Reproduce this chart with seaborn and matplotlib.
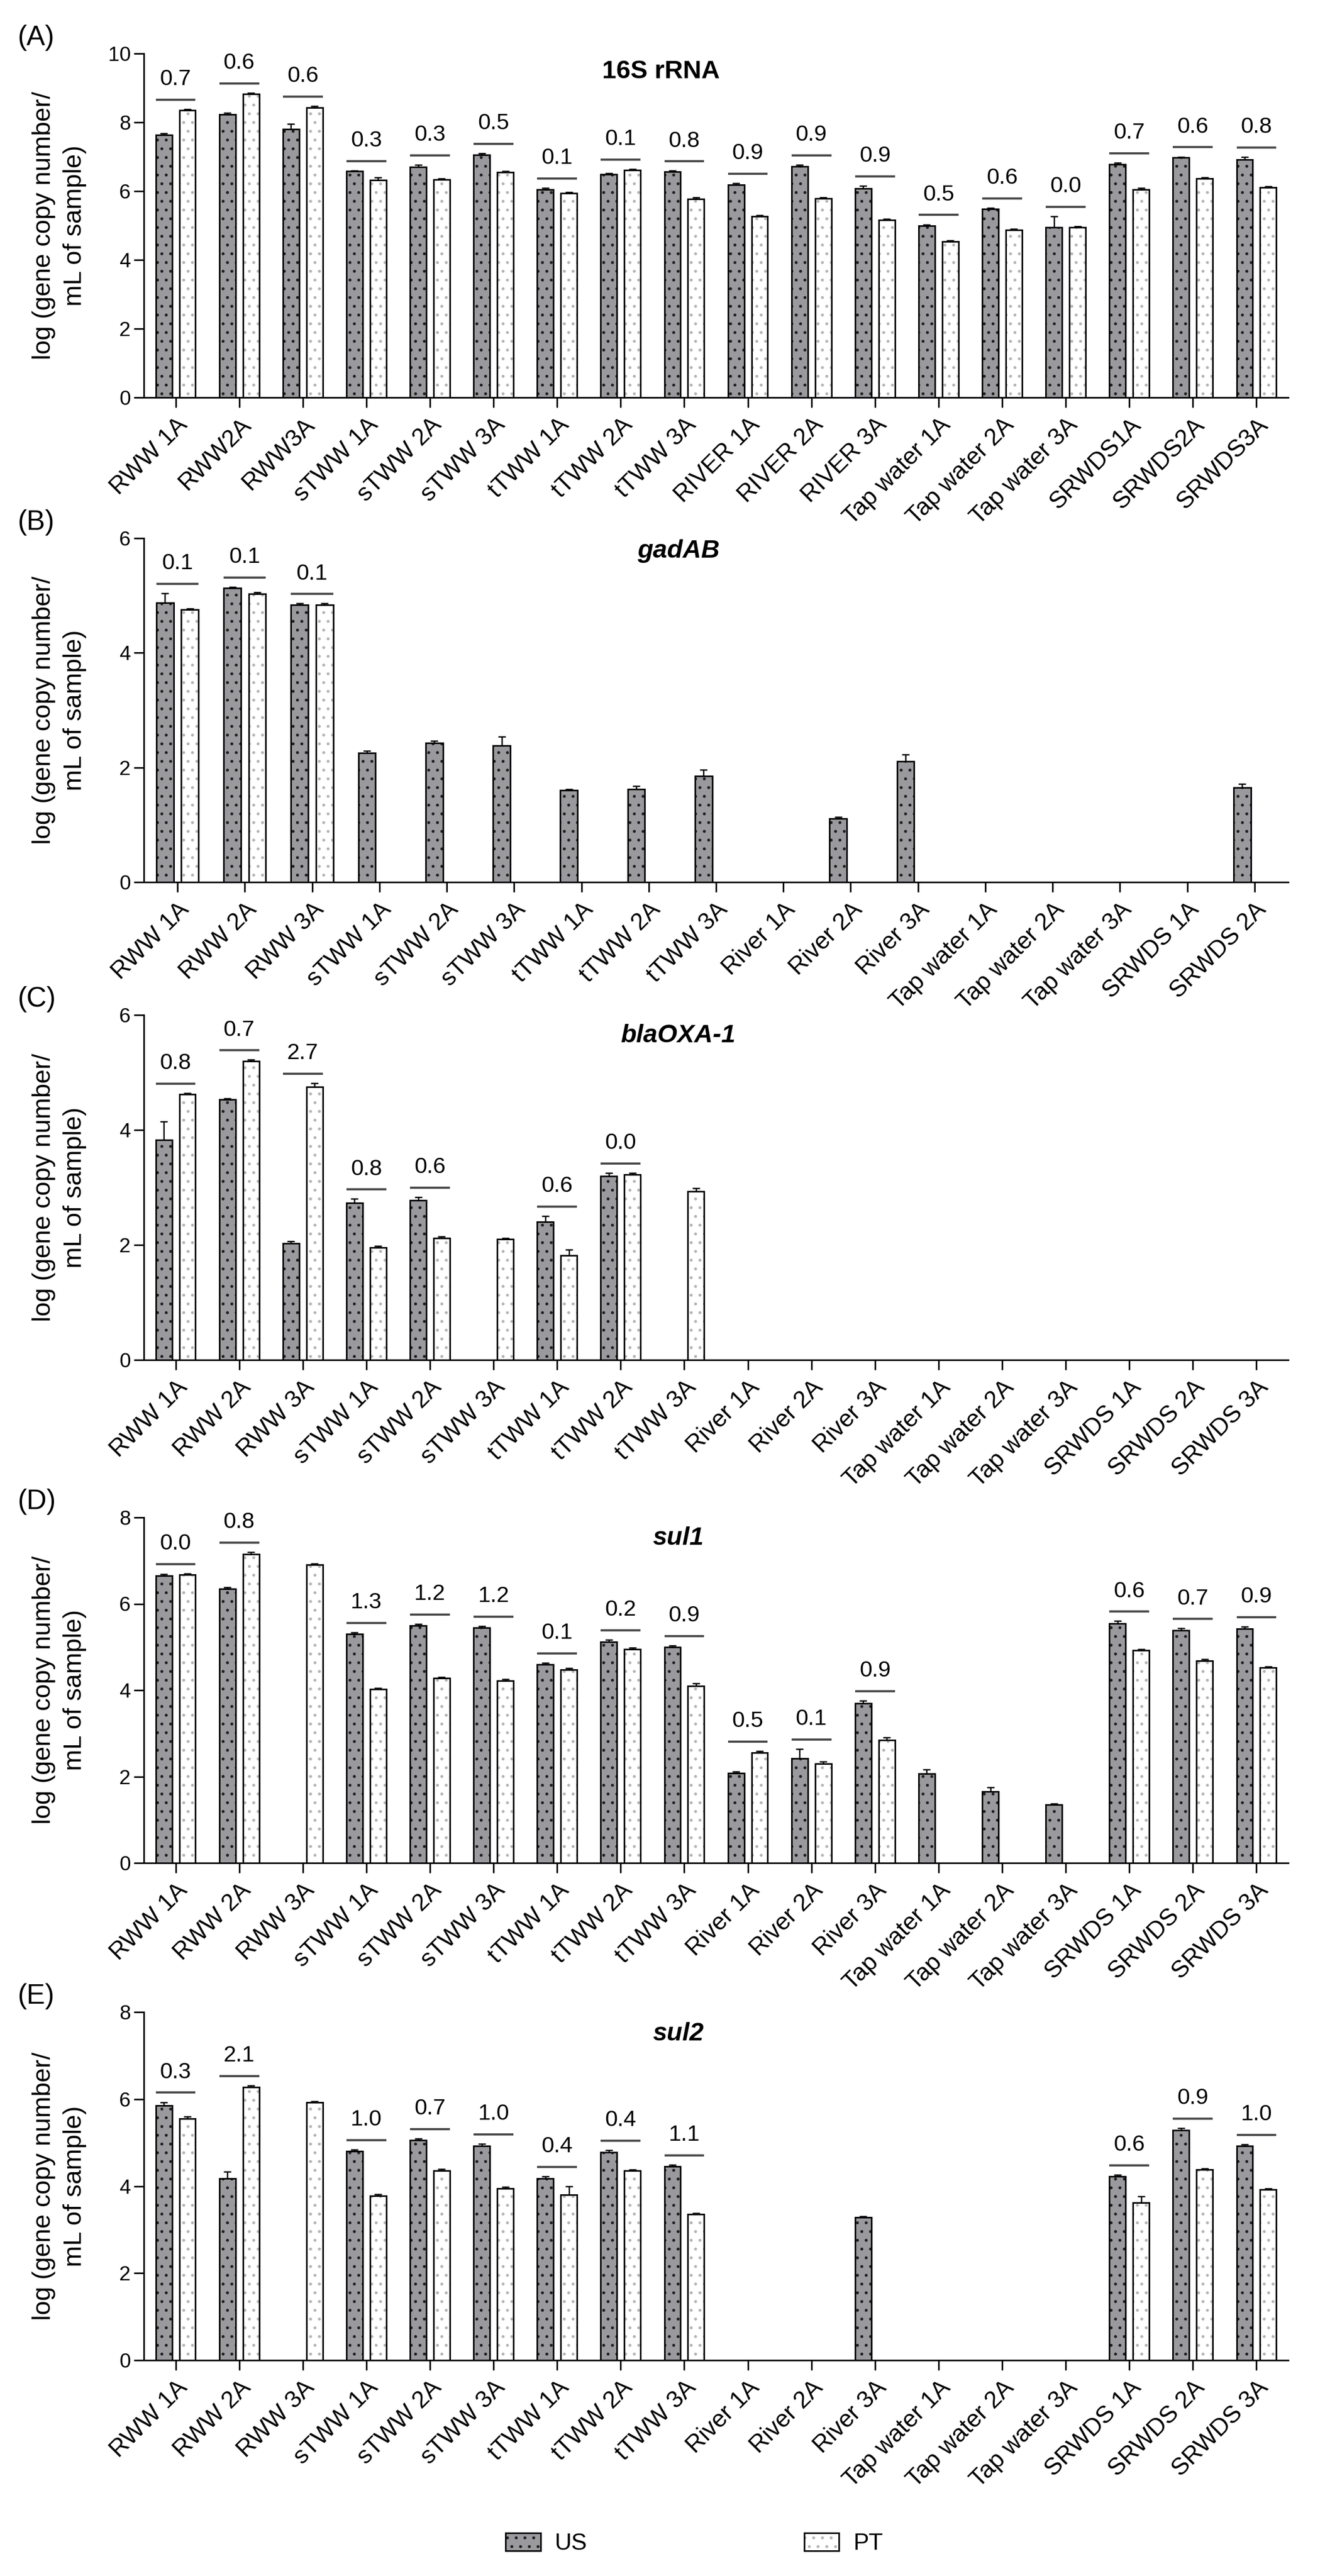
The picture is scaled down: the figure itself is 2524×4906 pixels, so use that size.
import numpy as np
import pandas as pd
import matplotlib
matplotlib.use("Agg")
import matplotlib.pyplot as plt
from matplotlib.patches import Rectangle, Patch
from matplotlib.transforms import offset_copy
import seaborn as sns

nan = np.nan

# sample names
sites = ["RWW 1A", "RWW 2A", "RWW 3A", "sTWW 1A", "sTWW 2A", "sTWW 3A",
         "tTWW 1A", "tTWW 2A", "tTWW 3A", "River 1A", "River 2A", "River 3A",
         "Tap water 1A", "Tap water 2A", "Tap water 3A",
         "SRWDS 1A", "SRWDS 2A", "SRWDS 3A"]
sites_16s = ["RWW 1A", "RWW2A", "RWW3A", "sTWW 1A", "sTWW 2A", "sTWW 3A",
             "tTWW 1A", "tTWW 2A", "tTWW 3A", "RIVER 1A", "RIVER 2A", "RIVER 3A",
             "Tap water 1A", "Tap water 2A", "Tap water 3A",
             "SRWDS1A", "SRWDS2A", "SRWDS3A"]
sites_gad = sites[:17]

# 16S rRNA
us_16s = [7.63, 8.23, 7.80, 6.58, 6.70, 7.05, 6.05, 6.49, 6.56, 6.19, 6.72, 6.07, 4.99, 5.48, 4.94, 6.78, 6.97, 6.92]
pt_16s = [8.35, 8.82, 8.43, 6.32, 6.34, 6.55, 5.94, 6.61, 5.77, 5.26, 5.79, 5.16, 4.53, 4.87, 4.95, 6.05, 6.36, 6.11]
us_16s_err = [0.05, 0.04, 0.15, 0.02, 0.06, 0.05, 0.04, 0.03, 0.03, 0.04, 0.04, 0.08, 0.04, 0.03, 0.33, 0.04, 0.03, 0.07]
pt_16s_err = [0.03, 0.03, 0.04, 0.07, 0.03, 0.03, 0.03, 0.03, 0.04, 0.04, 0.03, 0.03, 0.03, 0.03, 0.03, 0.04, 0.03, 0.03]
diff_16s = ["0.7", "0.6", "0.6", "0.3", "0.3", "0.5", "0.1", "0.1", "0.8", "0.9", "0.9", "0.9",
            "0.5", "0.6", "0.0", "0.7", "0.6", "0.8"]

# gadAB
us_gad = [4.87, 5.13, 4.84, 2.25, 2.43, 2.38, 1.60, 1.62, 1.85, nan, 1.11, 2.11, nan, nan, nan, nan, 1.65]
pt_gad = [4.75, 5.03, 4.84, nan, nan, nan, nan, nan, nan, nan, nan, nan, nan, nan, nan, nan, nan]
us_gad_err = [0.17, 0.02, 0.02, 0.04, 0.03, 0.16, 0.02, 0.06, 0.11, nan, 0.03, 0.12, nan, nan, nan, nan, 0.06]
pt_gad_err = [0.02, 0.03, 0.02, nan, nan, nan, nan, nan, nan, nan, nan, nan, nan, nan, nan, nan, nan]
diff_gad = ["0.1", "0.1", "0.1"] + [None] * 14

# blaOXA-1
us_oxa = [3.83, 4.53, 2.03, 2.73, 2.78, nan, 2.40, 3.20, nan] + [nan] * 9
pt_oxa = [4.62, 5.20, 4.75, 1.95, 2.12, 2.10, 1.82, 3.22, 2.93] + [nan] * 9
us_oxa_err = [0.32, 0.02, 0.03, 0.07, 0.05, nan, 0.10, 0.05, nan] + [nan] * 9
pt_oxa_err = [0.02, 0.02, 0.06, 0.03, 0.03, 0.02, 0.10, 0.03, 0.06] + [nan] * 9
diff_oxa = ["0.8", "0.7", "2.7", "0.8", "0.6", None, "0.6", "0.0", None] + [None] * 9

# sul1
us_sul1 = [6.65, 6.35, nan, 5.30, 5.50, 5.45, 4.60, 5.12, 5.00, 2.08, 2.42, 3.70, 2.07, 1.65, 1.35, 5.55, 5.38, 5.42]
pt_sul1 = [6.67, 7.15, 6.90, 4.02, 4.28, 4.22, 4.48, 4.95, 4.10, 2.55, 2.30, 2.85, nan, nan, nan, 4.92, 4.68, 4.52]
us_sul1_err = [0.04, 0.03, nan, 0.04, 0.03, 0.03, 0.03, 0.05, 0.03, 0.03, 0.22, 0.06, 0.10, 0.10, 0.02, 0.05, 0.05, 0.05]
pt_sul1_err = [0.03, 0.05, 0.03, 0.03, 0.03, 0.04, 0.03, 0.03, 0.06, 0.04, 0.05, 0.06, nan, nan, nan, 0.03, 0.04, 0.03]
diff_sul1 = ["0.0", "0.8", None, "1.3", "1.2", "1.2", "0.1", "0.2", "0.9", "0.5", "0.1", "0.9",
             None, None, None, "0.6", "0.7", "0.9"]

# sul2
us_sul2 = [5.85, 4.18, nan, 4.80, 5.05, 4.92, 4.18, 4.78, 4.45, nan, nan, 3.28, nan, nan, nan, 4.22, 5.28, 4.92]
pt_sul2 = [5.55, 6.28, 5.92, 3.78, 4.35, 3.95, 3.80, 4.35, 3.35, nan, nan, nan, nan, nan, nan, 3.62, 4.38, 3.92]
us_sul2_err = [0.08, 0.15, nan, 0.04, 0.04, 0.05, 0.04, 0.05, 0.04, nan, nan, 0.03, nan, nan, nan, 0.04, 0.05, 0.04]
pt_sul2_err = [0.05, 0.03, 0.03, 0.03, 0.04, 0.03, 0.20, 0.03, 0.03, nan, nan, nan, nan, nan, nan, 0.15, 0.03, 0.03]
diff_sul2 = ["0.3", "2.1", None, "1.0", "0.7", "1.0", "0.4", "0.4", "1.1", None, None, None,
             None, None, None, "0.6", "0.9", "1.0"]

US_GREY = "#9a9a9e"
HATCH_COLS = ["#1e1e1e", "#b4b4b4"]

sns.set_theme(style="ticks", rc={"axes.edgecolor": "black", "text.color": "black",
                                 "xtick.color": "black", "ytick.color": "black",
                                 "axes.labelcolor": "black", "hatch.linewidth": 1.6})
plt.rcParams['font.family'] = ['Liberation Sans', 'DejaVu Sans']

W, H = 2524, 4906
fig = plt.figure(figsize=(W / 100, H / 100), dpi=100)


def add_axes_px(top, bottom, left=274, right=2454):
    return fig.add_axes([left / W, 1 - bottom / H, (right - left) / W, (bottom - top) / H])


def draw_panel(ax, names, us, pt, us_err, pt_err, diffs, ymax, title, italic, letter, title_xy):
    df = pd.DataFrame({
        "site": list(names) * 2,
        "source": ["US"] * len(names) + ["PT"] * len(names),
        "value": list(us) + list(pt),
    }).dropna()
    sns.barplot(data=df, x="site", y="value", hue="source", order=names, hue_order=["US", "PT"],
                palette={"US": US_GREY, "PT": "white"}, width=0.74, gap=0.31, errorbar=None,
                saturation=1, legend=False, linewidth=0, ax=ax)
    # keep every sample on the axis, also the ones without any bar
    ax.set_xticks(range(len(names)))
    ax.set_xticklabels(names)
    ax.set_xlim(-0.5, len(names) - 0.5)

    groups = {}
    bar_sets = list(ax.containers)[:2]
    for k, cont in enumerate(bar_sets):
        errs = us_err if k == 0 else pt_err
        for bar in cont:
            if bar is None:
                continue
            h = bar.get_height()
            if np.isnan(h):
                continue
            w = bar.get_width()
            cx = bar.get_x() + w / 2
            i = int(round(cx))
            bar.set_hatch(".")
            bar.set_edgecolor(HATCH_COLS[k])
            bar.set_linewidth(0)
            ax.add_patch(Rectangle((bar.get_x(), 0), w, h, fill=False,
                                   ec="black", lw=2.2, zorder=3))
            e = errs[i]
            top = h
            if not np.isnan(e):
                ax.errorbar(cx, h, yerr=[[0], [e]], fmt="none", ecolor="black",
                            elinewidth=1.8, capsize=5, capthick=1.8, zorder=4)
                top = h + e
            # the comparison line spans both slots of the pair
            reach = abs(cx - i) + w / 2
            groups.setdefault(i, []).append((i - reach, i + reach, top))

    ax.set_ylim(0, ymax)
    ax.set_yticks(np.arange(0, ymax + 1, 2))

    line_tr = offset_copy(ax.transData, fig=fig, y=13, units="points")
    text_tr = offset_copy(ax.transData, fig=fig, y=33, units="points")
    for i, lab in enumerate(diffs):
        if lab is None or i not in groups:
            continue
        seg = groups[i]
        x0 = min(s[0] for s in seg)
        x1 = max(s[1] for s in seg)
        y = max(s[2] for s in seg)
        ax.plot([x0, x1], [y, y], color="#4a4a4a", lw=3, transform=line_tr,
                solid_capstyle="butt", clip_on=False)
        ax.text((x0 + x1) / 2, y, lab, transform=text_tr, ha="center", va="baseline",
                fontsize=31, clip_on=False)

    sns.despine(ax=ax)
    for sp in ["left", "bottom"]:
        ax.spines[sp].set_linewidth(2.2)
    ax.tick_params(axis="both", length=14, width=2.2)
    ax.tick_params(axis="y", labelsize=28, pad=4)
    ax.tick_params(axis="x", labelsize=33, pad=8)
    plt.setp(ax.get_xticklabels(), rotation=45, ha="right", rotation_mode="anchor")
    ax.set_xlabel("")
    ax.set_ylabel("log (gene copy number/\nmL of sample)", fontsize=35, linespacing=1.4)
    ax.yaxis.set_label_coords(-0.05, 0.5)

    ax.text(title_xy[0], title_xy[1], title, transform=ax.transAxes, ha="center", va="center",
            fontsize=35, fontweight="bold", fontstyle="italic" if italic else "normal")
    ax.text(-0.11, 1.046, letter, transform=ax.transAxes, ha="left", va="center", fontsize=38)


ax_a = add_axes_px(102, 757)
draw_panel(ax_a, sites_16s, us_16s, pt_16s, us_16s_err, pt_16s_err, diff_16s, 10,
           "16S rRNA", False, "(A)", (0.452, 0.947))

ax_b = add_axes_px(1025, 1680)
draw_panel(ax_b, sites_gad, us_gad, pt_gad, us_gad_err, pt_gad_err, diff_gad, 6,
           "gadAB", True, "(B)", (0.467, 0.962))

ax_c = add_axes_px(1933, 2590)
draw_panel(ax_c, sites, us_oxa, pt_oxa, us_oxa_err, pt_oxa_err, diff_oxa, 6,
           "blaOXA-1", True, "(C)", (0.467, 0.94))

ax_d = add_axes_px(2890, 3548)
draw_panel(ax_d, sites, us_sul1, pt_sul1, us_sul1_err, pt_sul1_err, diff_sul1, 8,
           "sul1", True, "(D)", (0.467, 0.94))

ax_e = add_axes_px(3832, 4495)
draw_panel(ax_e, sites, us_sul2, pt_sul2, us_sul2_err, pt_sul2_err, diff_sul2, 8,
           "sul2", True, "(E)", (0.467, 0.937))

outline = Patch(facecolor="none", edgecolor="black", linewidth=2.2)
h_us = (Patch(facecolor=US_GREY, edgecolor=HATCH_COLS[0], hatch=".", linewidth=0), outline)
h_pt = (Patch(facecolor="white", edgecolor=HATCH_COLS[1], hatch=".", linewidth=0), outline)
fig.legend(handles=[h_us, h_pt], labels=["US", "PT"], loc="center", bbox_to_anchor=(0.524, 0.0125),
           ncol=2, frameon=False, fontsize=32, handlelength=1.5, handleheight=0.8,
           columnspacing=9.3, handletextpad=0.6)

fig.savefig("out.png", dpi=100)
